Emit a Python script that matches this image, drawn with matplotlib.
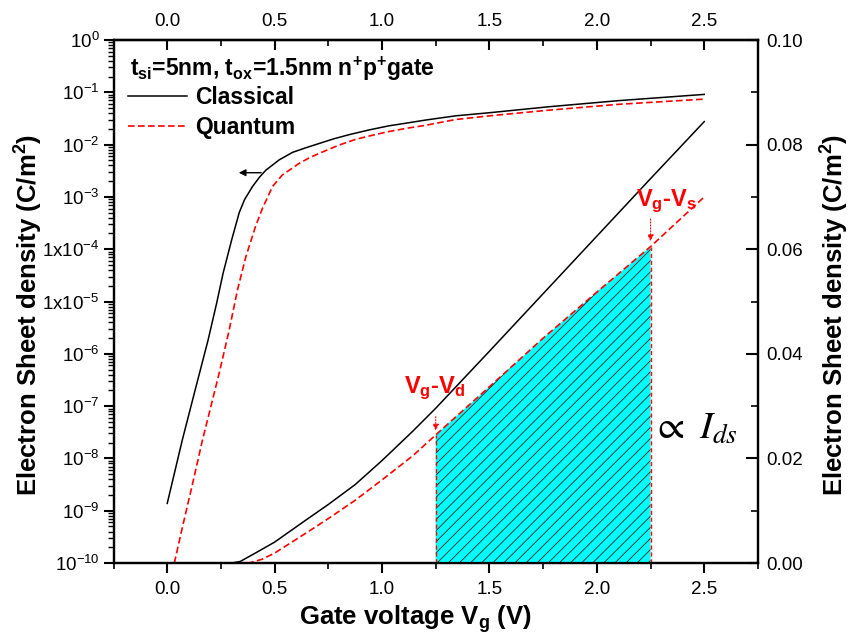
import numpy as np
import matplotlib
matplotlib.use("Agg")
import matplotlib.pyplot as plt
from matplotlib.ticker import LogLocator, NullFormatter

plt.rcParams['font.family'] = ['Liberation Sans', 'DejaVu Sans']
plt.rcParams['mathtext.default'] = 'regular'
plt.rcParams['hatch.linewidth'] = 0.6

# sheet density on log scale (left axis), C/m^2
v_cl_log = [0.0, 0.07, 0.13, 0.19, 0.23, 0.26, 0.30, 0.335, 0.36, 0.397, 0.43, 0.459,
            0.521, 0.583, 0.645, 0.707, 0.775, 0.847, 0.94, 1.033, 1.12, 1.203, 1.343,
            1.5, 1.78, 2.1, 2.5]
q_cl_log = [1.38e-9, 2.24e-8, 2.04e-7, 1.82e-6, 9.3e-6, 3.47e-5, 1.51e-4, 5.0e-4, 8.9e-4,
            1.58e-3, 2.4e-3, 3.24e-3, 5.1e-3, 7.1e-3, 8.7e-3, 0.0105, 0.0129, 0.0155,
            0.0191, 0.0229, 0.026, 0.0295, 0.0355, 0.0407, 0.0531, 0.0692, 0.0912]

v_qm_log = [0.033, 0.071, 0.118, 0.164, 0.203, 0.242, 0.288, 0.327, 0.366, 0.412, 0.443,
            0.49, 0.536, 0.614, 0.665, 0.722, 0.8, 0.877, 0.955, 1.033, 1.12, 1.203,
            1.343, 1.5, 1.78, 2.1, 2.5]
q_qm_log = [1e-10, 4.9e-10, 3.3e-9, 2.24e-8, 9.8e-8, 4.3e-7, 2.8e-6, 1.66e-5, 7.2e-5,
            2.8e-4, 6.0e-4, 1.58e-3, 2.63e-3, 4.37e-3, 5.7e-3, 7.2e-3, 9.8e-3, 0.0126,
            0.0151, 0.0178, 0.0207, 0.0234, 0.0302, 0.0355, 0.0457, 0.0589, 0.0741]

# sheet density on linear scale (right axis), C/m^2
v_cl_lin = [0.0, 0.30, 0.34, 0.41, 0.50, 0.645, 0.75, 0.875, 1.0, 1.143, 1.25, 1.5,
            1.75, 2.0, 2.25, 2.5]
q_cl_lin = [0.0, 0.0, 0.0003, 0.0019, 0.0040, 0.0082, 0.0112, 0.0150, 0.0196, 0.0252,
            0.0296, 0.0405, 0.0515, 0.0625, 0.0735, 0.0844]

v_qm_lin = [0.0, 0.38, 0.44, 0.50, 0.645, 0.75, 0.875, 1.0, 1.143, 1.25, 1.5, 1.75,
            2.0, 2.25, 2.5]
q_qm_lin = [0.0, 0.0, 0.0007, 0.0019, 0.0057, 0.0085, 0.0120, 0.0159, 0.0205, 0.0245,
            0.0337, 0.0430, 0.0518, 0.0605, 0.0700]

# drain / source ends of the channel
v_d, v_s = 1.25, 2.25

log_ticks = [1e0, 1e-1, 1e-2, 1e-3, 1e-4, 1e-5, 1e-6, 1e-7, 1e-8, 1e-9, 1e-10]
log_labels = ['$10^{0}$', '$10^{-1}$', '$10^{-2}$', '$10^{-3}$', '$1x10^{-4}$',
              '$1x10^{-5}$', '$10^{-6}$', '$10^{-7}$', '$10^{-8}$', '$10^{-9}$',
              '$10^{-10}$']
x_ticks = [0.0, 0.5, 1.0, 1.5, 2.0, 2.5]
x_labels = ['0.0', '0.5', '1.0', '1.5', '2.0', '2.5']
lin_ticks = [0.00, 0.02, 0.04, 0.06, 0.08, 0.10]
lin_labels = ['0.00', '0.02', '0.04', '0.06', '0.08', '0.10']

red_dash = (0, (4, 2))

fig = plt.figure(figsize=(8.53, 6.39), dpi=100)
ax = fig.add_axes([0.1331, 0.1189, 0.7555, 0.8185])
ax2 = ax.twinx()

l1, = ax.plot(v_cl_log, q_cl_log, color='black', lw=1.1)
l2, = ax.plot(v_qm_log, q_qm_log, color='red', lw=1.2, linestyle=red_dash)
ax.set_yscale('log')
ax.set_ylim(1e-10, 1)
ax.set_xlim(-0.25, 2.75)

ax2.plot(v_cl_lin, q_cl_lin, color='black', lw=1.1)
ax2.plot(v_qm_lin, q_qm_lin, color='red', lw=1.2, linestyle=red_dash)
ax2.set_ylim(0, 0.10)

# shaded area under the quantum curve between drain and source
vq = np.array(v_qm_lin)
qq = np.array(q_qm_lin)
mask = (vq >= v_d) & (vq <= v_s)
ax2.fill_between(vq[mask], 0, qq[mask], facecolor='#00FFFF', edgecolor='#202020',
                 linewidth=0, hatch='///', zorder=1)
q_d = np.interp(v_d, vq, qq)
q_s = np.interp(v_s, vq, qq)
ax2.vlines([v_d, v_s], 0, [q_d, q_s], colors='red', lw=1.0, linestyles=(0, (3, 2)))

# labels at the two channel ends
ax2.annotate('', xy=(v_d, q_d + 0.0003), xytext=(v_d, q_d + 0.004),
             arrowprops=dict(arrowstyle='-|>', color='red', lw=0.8, linestyle=':',
                             mutation_scale=9))
ax2.annotate('', xy=(v_s, q_s + 0.0005), xytext=(v_s, q_s + 0.0058),
             arrowprops=dict(arrowstyle='-|>', color='red', lw=0.8, linestyle=':',
                             mutation_scale=9))
ax2.text(1.1, 0.0325, 'V$_g$-V$_d$', color='red', fontsize=17, fontweight='bold')
ax2.text(2.18, 0.0683, 'V$_g$-V$_s$', color='red', fontsize=17, fontweight='bold')
ax2.text(2.255, 0.0238, r'$\propto\ \mathit{I_{ds}}$', fontsize=28, math_fontfamily='stix',
         family='Liberation Serif')

# arrow pointing to the log axis
ax.annotate('', xy=(0.32, 2.9e-3), xytext=(0.45, 2.9e-3),
            arrowprops=dict(arrowstyle='-|>', color='black', lw=1.0, mutation_scale=10))

ax.text(0.026, 0.972, '$t_{si}$=5nm, $t_{ox}$=1.5nm n$^{+}$p$^{+}$gate',
        transform=ax.transAxes, fontsize=16.5, fontweight='bold', va='top')
ax.legend([l1, l2], ['Classical', 'Quantum'], loc='upper left',
          bbox_to_anchor=(0.022, 0.912), frameon=False, borderpad=0, borderaxespad=0,
          handlelength=2.6, handletextpad=0.35, labelspacing=0.3,
          prop=dict(weight='bold', size=16.5))

ax.set_yticks(log_ticks)
ax.set_yticklabels(log_labels)
ax.yaxis.set_minor_locator(LogLocator(base=10, subs=np.arange(2, 10), numticks=100))
ax.yaxis.set_minor_formatter(NullFormatter())
ax.set_xticks(x_ticks)
ax.set_xticklabels(x_labels)
ax.set_xticks(np.arange(-0.25, 2.76, 0.25), minor=True)
ax2.set_yticks(lin_ticks)
ax2.set_yticklabels(lin_labels)
ax2.set_yticks(np.arange(0.01, 0.10, 0.02), minor=True)

ax.tick_params(axis='y', which='major', direction='out', length=7, width=1.5,
               labelsize=13.5, pad=3)
ax.tick_params(axis='y', which='minor', direction='out', length=4, width=1.0)
ax.tick_params(axis='x', which='major', direction='out', length=7, width=1.5,
               labelsize=13.5, pad=6)
ax.tick_params(axis='x', which='minor', direction='out', length=4, width=1.2)
ax2.tick_params(axis='y', which='major', direction='in', length=9, width=1.5,
                labelsize=13.5, pad=6)
ax2.tick_params(axis='y', which='minor', direction='in', length=5, width=1.2)

top = ax.secondary_xaxis('top')
top.set_xticks(x_ticks)
top.set_xticklabels(x_labels)
top.set_xticks(np.arange(-0.25, 2.76, 0.25), minor=True)
top.tick_params(which='major', direction='in', length=7, width=1.5, labelsize=13.5, pad=7)
top.tick_params(which='minor', direction='in', length=4, width=1.2)

for a in (ax, ax2):
    for s in a.spines.values():
        s.set_linewidth(1.6)
top.spines['top'].set_linewidth(1.6)

ax.set_xlabel('Gate voltage V$_g$ (V)', fontsize=18.5, fontweight='bold', labelpad=4)
ax.set_ylabel('Electron Sheet density (C/m$^2$)', fontsize=18.5, fontweight='bold',
              labelpad=-2)
ax2.set_ylabel('Electron Sheet density (C/m$^2$)', fontsize=18.5, fontweight='bold',
               labelpad=11)
ax.xaxis.label.set_x(0.468)
ax.yaxis.label.set_y(0.474)
ax2.yaxis.label.set_y(0.474)

fig.savefig('out.png', dpi=100)
